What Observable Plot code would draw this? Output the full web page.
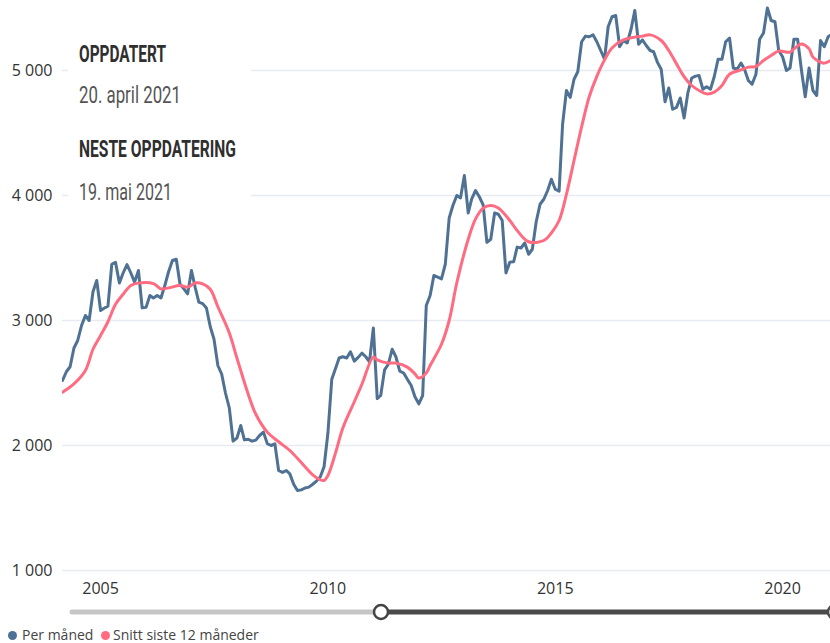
<!DOCTYPE html>
<html><head><meta charset="utf-8">
<script src="https://cdn.jsdelivr.net/npm/d3@7"></script>
<script src="https://cdn.jsdelivr.net/npm/@observablehq/plot@0.6"></script>
<style>
body{margin:0;background:#fff;}
#wrap{position:relative;width:830px;height:643px;overflow:hidden;font-family:"Open Sans",sans-serif;}
#chart{position:absolute;left:0;top:0;}
#slider{position:absolute;left:0;top:600px;}
.lg{position:absolute;top:626px;font-size:14px;color:#444;line-height:17px;white-space:nowrap;}
.dot{position:absolute;width:9px;height:9px;border-radius:50%;}
</style></head><body>
<div id="wrap"><div id="chart"></div><svg id="slider" width="830" height="24"></svg></div>
<script>
// monthly values, first value = March 2004
const startYear = 2004, startMonth = 3;
const v2004 = [2520, 2590, 2630, 2780, 2840, 2960, 3040, 3000, 3230, 3320];
const v2005 = [3080, 3100, 3115, 3450, 3465, 3300, 3380, 3448, 3380, 3307, 3400, 3101];
const v2006 = [3105, 3200, 3180, 3200, 3180, 3280, 3390, 3480, 3490, 3290, 3253, 3213];
const v2007 = [3400, 3260, 3147, 3135, 3100, 2950, 2850, 2640, 2570, 2420, 2300, 2035];
const v2008 = [2060, 2160, 2045, 2050, 2035, 2043, 2080, 2107, 2015, 2000, 2013, 1800];
const v2009 = [1785, 1800, 1773, 1690, 1640, 1645, 1660, 1667, 1690, 1715, 1750, 1830];
const v2010 = [2100, 2530, 2610, 2700, 2710, 2700, 2750, 2675, 2705, 2739, 2710, 2670];
const v2011 = [2940, 2375, 2400, 2605, 2650, 2770, 2710, 2595, 2580, 2530, 2480, 2390];
const v2012 = [2333, 2400, 3120, 3200, 3360, 3347, 3333, 3450, 3820, 3920, 4000, 3980];
const v2013 = [4160, 3860, 3973, 4040, 3990, 3925, 3625, 3650, 3860, 3850, 3800, 3380];
const v2014 = [3467, 3470, 3587, 3580, 3620, 3530, 3570, 3790, 3930, 3970, 4040, 4130];
const v2015 = [4050, 4035, 4570, 4840, 4785, 4930, 4990, 5230, 5275, 5270, 5285, 5230];
const v2016 = [5160, 5090, 5350, 5430, 5440, 5190, 5240, 5220, 5330, 5480, 5210, 5245];
const v2017 = [5200, 5160, 5150, 5065, 5010, 4750, 4860, 4690, 4705, 4780, 4620, 4820];
const v2018 = [4940, 4955, 4960, 4850, 4870, 4850, 4950, 5090, 5090, 5230, 5260, 5020];
const v2019 = [5010, 5060, 5010, 4920, 4890, 4970, 5250, 5300, 5500, 5400, 5390, 5160];
const v2020 = [5110, 5000, 5020, 5250, 5250, 5000, 4790, 5020, 4840, 4800, 5240, 5190];
const v2021 = [5270, 5290, 5300];

// 12-month average, read at sample months
const avgMonths = ["2004-03","2004-06","2004-09","2004-11","2005-01","2005-03","2005-05","2005-07","2005-09","2005-11","2006-03","2006-05","2006-07","2006-10","2006-12","2007-02","2007-04","2007-06","2007-08","2007-11","2008-01","2008-04","2008-06","2008-09","2008-12","2009-03","2009-07","2009-09","2009-11","2009-12","2010-01","2010-03","2010-05","2010-08","2010-10","2011-01","2011-02","2011-05","2011-07","2011-10","2011-12","2012-01","2012-03","2012-04","2012-07","2012-09","2012-11","2013-02","2013-04","2013-06","2013-08","2013-10","2014-01","2014-03","2014-06","2014-10","2014-12","2015-02","2015-04","2015-06","2015-08","2015-10","2015-12","2016-02","2016-04","2016-07","2016-10","2016-12","2017-02","2017-05","2017-07","2017-09","2017-11","2018-01","2018-03","2018-05","2018-07","2018-09","2018-11","2019-02","2019-04","2019-06","2019-08","2019-10","2019-12","2020-03","2020-04","2020-06","2020-08","2020-09","2020-11","2020-12","2021-02"];
const avgValues = [2427,2493,2600,2770,2880,2990,3130,3210,3280,3299,3295,3253,3261,3280,3267,3300,3293,3250,3110,2900,2700,2410,2250,2107,2030,1960,1830,1765,1725,1720,1760,1933,2140,2350,2490,2707,2685,2659,2659,2627,2573,2540,2580,2640,2810,3000,3300,3650,3813,3899,3920,3900,3800,3720,3630,3640,3700,3800,4010,4280,4550,4790,4953,5085,5180,5245,5267,5275,5285,5240,5160,5053,4950,4880,4840,4813,4827,4880,4970,5005,5027,5032,5080,5120,5155,5147,5173,5213,5173,5107,5067,5059,5085];

const yTicks = [1000, 2000, 3000, 4000, 5000];
const xTickYears = [2005, 2010, 2015, 2020];
const seriesNames = ["Per måned", "Snitt siste 12 måneder"];
const seriesColors = ["#4f7193", "#ff6b81"];
const noteTexts = ["OPPDATERT", "20. april 2021", "NESTE OPPDATERING", "19. mai 2021"];

const perMonth = [].concat(v2004, v2005, v2006, v2007, v2008, v2009, v2010, v2011, v2012, v2013, v2014, v2015, v2016, v2017, v2018, v2019, v2020, v2021);
const monthly = perMonth.map((v, i) => ({date: new Date(Date.UTC(startYear, startMonth - 1 + i, 1)), value: v}));
const parseM = d3.utcParse("%Y-%m");
const avg = avgMonths.map((m, i) => ({date: parseM(m), value: avgValues[i]}));

const chart = Plot.plot({
  width: 830, height: 600,
  marginLeft: 62, marginRight: 0, marginTop: 0, marginBottom: 30,
  style: {fontFamily: '"Open Sans", sans-serif', fontSize: "16px", color: "#333", background: "transparent", overflow: "visible"},
  x: {type: "utc", domain: [new Date(Date.UTC(2004, 2, 1)), new Date(Date.UTC(2021, 0, 20))],
      ticks: xTickYears.map(y => new Date(Date.UTC(y, 0, 1))), tickFormat: d => String(d.getUTCFullYear()),
      tickSize: 0, tickPadding: 12, label: null},
  y: {domain: [1000, 5560], ticks: yTicks, tickFormat: d => d3.format(",")(d).replace(/,/g, " "),
      tickSize: 0, tickPadding: 10, label: null},
  marks: [
    Plot.gridY(yTicks, {stroke: "#e8ebf0", strokeOpacity: 1, strokeWidth: 1.5}),
    Plot.line(monthly, {x: "date", y: "value", stroke: seriesColors[0], strokeWidth: 3, clip: true}),
    Plot.line(avg, {x: "date", y: "value", stroke: seriesColors[1], strokeWidth: 3, curve: "catmull-rom", clip: true})
  ]
});
document.getElementById("chart").appendChild(chart);

// annotation box
const svg = d3.select(chart);
const g = svg.append("g").attr("text-anchor", "start");
g.append("rect").attr("x", 68).attr("y", 22).attr("width", 183).attr("height", 193).attr("fill", "#fff");
const noteSpec = [
  {y: 62, w: 87, bold: true}, {y: 103, w: 102, bold: false},
  {y: 157, w: 157, bold: true}, {y: 200, w: 93, bold: false}
];
noteTexts.forEach((t, i) => {
  const s = noteSpec[i];
  g.append("text").attr("x", 79).attr("y", s.y).attr("text-anchor", "start")
    .attr("font-family", "Roboto, sans-serif").attr("font-size", 23.5)
    .attr("font-weight", s.bold ? 700 : 400)
    .attr("fill", s.bold ? "#2f2f2f" : "#555")
    .attr("textLength", s.w).attr("lengthAdjust", "spacingAndGlyphs")
    .text(t);
});

// slider
const sl = d3.select("#slider");
sl.append("line").attr("x1", 72).attr("x2", 381).attr("y1", 12).attr("y2", 12).attr("stroke", "#c6c6c6").attr("stroke-width", 5).attr("stroke-linecap", "round");
sl.append("line").attr("x1", 381).attr("x2", 840).attr("y1", 12).attr("y2", 12).attr("stroke", "#4a4a4a").attr("stroke-width", 5);
sl.append("circle").attr("cx", 835).attr("cy", 12).attr("r", 7).attr("fill", "#fff").attr("stroke", "#4a4a4a").attr("stroke-width", 2.5);
sl.append("circle").attr("cx", 381).attr("cy", 12).attr("r", 7).attr("fill", "#fff").attr("stroke", "#444").attr("stroke-width", 2.5);

// legend
const wrap = document.getElementById("wrap");
const lgPos = [{dot: 8, text: 22}, {dot: 101, text: 113}];
seriesNames.forEach((n, i) => {
  const d = document.createElement("div");
  d.className = "dot"; d.style.left = lgPos[i].dot + "px"; d.style.top = "631px"; d.style.background = seriesColors[i];
  wrap.appendChild(d);
  const t = document.createElement("div");
  t.className = "lg"; t.style.left = lgPos[i].text + "px"; t.textContent = n;
  wrap.appendChild(t);
});
</script>
</body></html>
